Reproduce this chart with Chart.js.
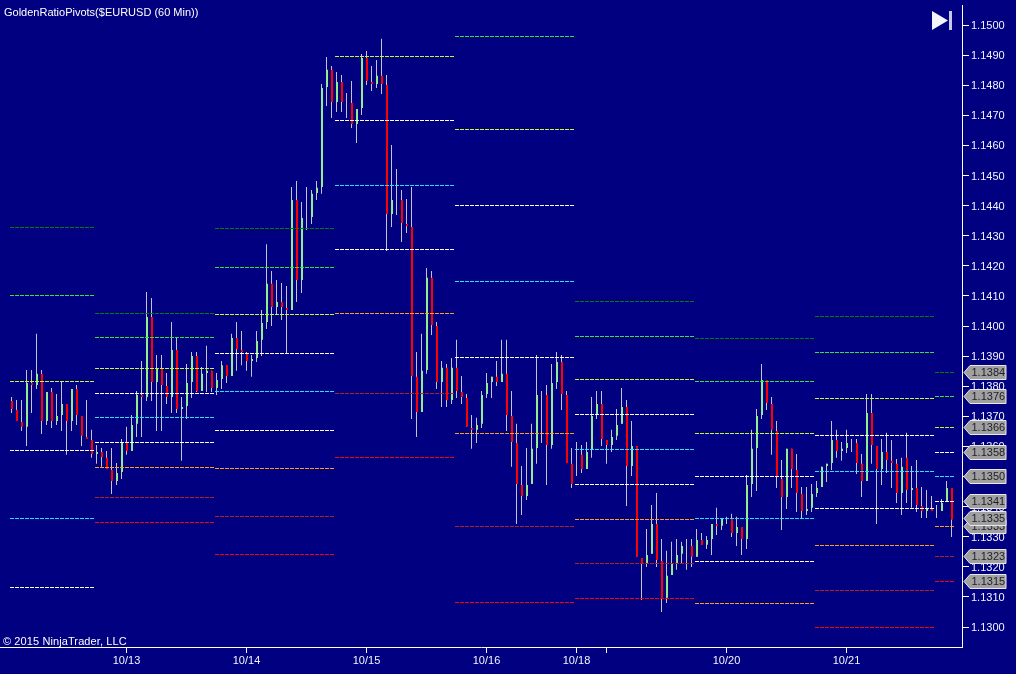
<!DOCTYPE html>
<html lang="en">
<head>
  <meta charset="UTF-8" />
  <title>GoldenRatioPivots($EURUSD (60 Min))</title>
  <script src="https://cdn.jsdelivr.net/npm/chart.js"></script>
  <style>
    html, body { margin: 0; padding: 0; background: #000080; overflow: hidden; }
    #wrap { position: relative; width: 1016px; height: 674px; }
    canvas { display: block; }
    .note { position: absolute; color: #fff; font: 11px "Liberation Sans", Arial, sans-serif; white-space: nowrap; }
    svg { position: absolute; left: 930px; top: 9px; }
  </style>
</head>
<body>
<div id="wrap">
  <canvas id="chart" width="1016" height="674"></canvas>
  <div class="note" style="left:4px; top:6px;">GoldenRatioPivots($EURUSD (60 Min))</div>
  <div class="note" style="left:3px; top:635px; letter-spacing:0.1px;">© 2015 NinjaTrader, LLC</div>
  <svg width="24" height="23"><polygon points="2,2 18,11.5 2,21" fill="#f4f4fc"/><rect x="19" y="2" width="3" height="19" fill="#c8c8e8"/></svg>
</div>

<script>
  // 60 min candles, oldest first
  const opens = [
    1.13751,1.13721,1.13681,1.13665,1.13811,1.13804,1.13841,1.13684,1.13781,1.13684,
    1.13704,1.13741,1.13684,1.13791,1.13701,1.13631,1.13621,1.13575,1.13581,1.13562,
    1.13522,1.13485,1.13515,1.13611,1.13585,1.13675,1.13771,1.13764,1.14030,1.13814,
    1.13857,1.13801,1.13764,1.13920,1.13724,1.13734,1.13814,1.13900,1.13784,1.13844,
    1.13851,1.13794,1.13824,1.13870,1.13834,1.13960,1.13920,1.13907,1.13884,1.13894,
    1.13954,1.14013,1.14140,1.14063,1.14080,1.14060,1.14053,1.14419,1.14153,1.14322,
    1.14362,1.14442,1.14462,1.14794,1.14851,1.14744,1.14811,1.14730,1.14741,1.14671,
    1.14724,1.14890,1.14811,1.14804,1.14831,1.14801,1.14372,1.14450,1.14419,1.14339,
    1.14329,1.13831,1.13714,1.13854,1.14160,1.14000,1.13814,1.13861,1.13754,1.13861,
    1.13781,1.13761,1.13661,1.13655,1.13675,1.13774,1.13814,1.13831,1.13814,1.13841,
    1.13701,1.13611,1.13472,1.13435,1.13475,1.13595,1.13700,1.13771,1.13605,1.13814,
    1.13880,1.13771,1.13542,1.13550,1.13572,1.13525,1.13588,1.13704,1.13741,1.13621,
    1.13605,1.13635,1.13675,1.13731,1.13535,1.13601,1.13229,1.13213,1.13243,1.13342,
    1.13219,1.13097,1.13173,1.13213,1.13243,1.13240,1.13269,1.13233,1.13289,1.13273,
    1.13292,1.13342,1.13336,1.13355,1.13359,1.13312,1.13332,1.13292,1.13475,1.13595,
    1.13704,1.13821,1.13741,1.13651,1.13492,1.13432,1.13592,1.13522,1.13442,1.13385,
    1.13396,1.13445,1.13465,1.13535,1.13545,1.13621,1.13585,1.13595,1.13605,1.13611,
    1.13542,1.13485,1.13711,1.13601,1.13525,1.13581,1.13552,1.13542,1.13445,1.13562,
    1.13455,1.13462,1.13402,1.13385,1.13392,1.13385,1.13385,1.13419,1.13462
  ];
  const highs = [
    1.13764,1.13754,1.13754,1.13854,1.13854,1.13974,1.13854,1.13781,1.13794,1.13774,
    1.13817,1.13741,1.13791,1.13804,1.13701,1.13754,1.13655,1.13605,1.13595,1.13585,
    1.13595,1.13545,1.13625,1.13665,1.13704,1.13784,1.13884,1.14113,1.14093,1.13904,
    1.13904,1.13844,1.14013,1.13963,1.13764,1.13874,1.13914,1.13914,1.13864,1.13934,
    1.13851,1.13844,1.13884,1.13870,1.13974,1.14013,1.13983,1.13914,1.13904,1.13983,
    1.14053,1.14272,1.14183,1.14153,1.14143,1.14133,1.14462,1.14482,1.14412,1.14462,
    1.14452,1.14482,1.14804,1.14894,1.14864,1.14844,1.14834,1.14774,1.14814,1.14721,
    1.14904,1.14914,1.14864,1.14884,1.14954,1.14834,1.14601,1.14522,1.14452,1.14422,
    1.14462,1.13914,1.13974,1.14193,1.14183,1.14013,1.13884,1.13874,1.13894,1.13954,
    1.13834,1.13774,1.13704,1.13695,1.13784,1.13844,1.13831,1.13884,1.13954,1.13954,
    1.13784,1.13675,1.13535,1.13595,1.13675,1.13904,1.13784,1.13804,1.13874,1.13914,
    1.13904,1.13784,1.13595,1.13615,1.13605,1.13615,1.13764,1.13784,1.13784,1.13621,
    1.13655,1.13724,1.13794,1.13754,1.13684,1.13601,1.13229,1.13326,1.13405,1.13445,
    1.13292,1.13253,1.13283,1.13292,1.13283,1.13292,1.13292,1.13326,1.13312,1.13302,
    1.13342,1.13396,1.13362,1.13366,1.13376,1.13366,1.13332,1.13505,1.13655,1.13724,
    1.13874,1.13821,1.13764,1.13684,1.13555,1.13592,1.13592,1.13575,1.13465,1.13465,
    1.13475,1.13485,1.13532,1.13542,1.13684,1.13655,1.13615,1.13655,1.13625,1.13625,
    1.13575,1.13774,1.13774,1.13601,1.13625,1.13645,1.13621,1.13558,1.13562,1.13645,
    1.13535,1.13555,1.13465,1.13455,1.13435,1.13405,1.13425,1.13485,1.13462
  ];
  const lows = [
    1.13711,1.13684,1.13651,1.13601,1.13711,1.13791,1.13641,1.13671,1.13661,1.13671,
    1.13651,1.13572,1.13651,1.13671,1.13601,1.13625,1.13562,1.13542,1.13532,1.13525,
    1.13442,1.13472,1.13492,1.13572,1.13585,1.13631,1.13631,1.13751,1.13751,1.13651,
    1.13651,1.13741,1.13711,1.13711,1.13552,1.13691,1.13761,1.13781,1.13784,1.13781,
    1.13781,1.13771,1.13791,1.13811,1.13834,1.13851,1.13870,1.13851,1.13831,1.13880,
    1.13900,1.13990,1.14000,1.14040,1.14020,1.13910,1.14053,1.14080,1.14110,1.14319,
    1.14339,1.14419,1.14439,1.14731,1.14691,1.14711,1.14711,1.14691,1.14658,1.14608,
    1.14701,1.14801,1.14781,1.14791,1.14771,1.14249,1.14329,1.14369,1.14279,1.14309,
    1.13691,1.13631,1.13714,1.13841,1.13970,1.13791,1.13731,1.13731,1.13741,1.13761,
    1.13741,1.13665,1.13592,1.13611,1.13661,1.13761,1.13761,1.13801,1.13814,1.13651,
    1.13532,1.13342,1.13372,1.13422,1.13475,1.13542,1.13611,1.13472,1.13592,1.13791,
    1.13721,1.13545,1.13462,1.13502,1.13512,1.13525,1.13562,1.13691,1.13601,1.13542,
    1.13581,1.13621,1.13675,1.13402,1.13502,1.13233,1.13090,1.13199,1.13243,1.13199,
    1.13050,1.13080,1.13173,1.13190,1.13213,1.13190,1.13199,1.13233,1.13273,1.13259,
    1.13239,1.13306,1.13322,1.13342,1.13299,1.13269,1.13239,1.13259,1.13432,1.13452,
    1.13691,1.13721,1.13572,1.13462,1.13322,1.13392,1.13462,1.13382,1.13362,1.13372,
    1.13382,1.13432,1.13465,1.13482,1.13522,1.13562,1.13552,1.13578,1.13581,1.13508,
    1.13432,1.13485,1.13542,1.13342,1.13472,1.13512,1.13462,1.13412,1.13372,1.13412,
    1.13396,1.13382,1.13362,1.13362,1.13385,1.13362,1.13385,1.13419,1.13299
  ];
  const closes = [
    1.13724,1.13684,1.13665,1.13811,1.13804,1.13841,1.13684,1.13781,1.13684,1.13701,
    1.13741,1.13684,1.13791,1.13704,1.13635,1.13625,1.13575,1.13581,1.13565,1.13525,
    1.13485,1.13512,1.13611,1.13585,1.13671,1.13771,1.13764,1.14030,1.13814,1.13857,
    1.13804,1.13764,1.13920,1.13724,1.13731,1.13811,1.13900,1.13784,1.13841,1.13851,
    1.13794,1.13821,1.13870,1.13834,1.13960,1.13924,1.13914,1.13884,1.13890,1.13950,
    1.14010,1.14140,1.14063,1.14080,1.14063,1.14053,1.14419,1.14153,1.14359,1.14322,
    1.14439,1.14459,1.14791,1.14851,1.14744,1.14811,1.14744,1.14730,1.14671,1.14721,
    1.14890,1.14814,1.14804,1.14831,1.14804,1.14372,1.14419,1.14450,1.14342,1.14332,
    1.13834,1.13714,1.13851,1.14160,1.14003,1.13814,1.13861,1.13754,1.13861,1.13784,
    1.13764,1.13665,1.13655,1.13671,1.13771,1.13811,1.13831,1.13814,1.13841,1.13704,
    1.13615,1.13475,1.13435,1.13472,1.13592,1.13771,1.13700,1.13605,1.13811,1.13880,
    1.13774,1.13545,1.13475,1.13550,1.13525,1.13581,1.13701,1.13741,1.13625,1.13605,
    1.13631,1.13671,1.13731,1.13535,1.13601,1.13233,1.13213,1.13239,1.13342,1.13223,
    1.13093,1.13170,1.13209,1.13239,1.13269,1.13240,1.13233,1.13289,1.13273,1.13289,
    1.13342,1.13336,1.13359,1.13355,1.13312,1.13332,1.13292,1.13472,1.13592,1.13701,
    1.13821,1.13744,1.13655,1.13498,1.13432,1.13592,1.13525,1.13445,1.13385,1.13392,
    1.13442,1.13462,1.13532,1.13542,1.13621,1.13585,1.13592,1.13611,1.13605,1.13545,
    1.13485,1.13711,1.13605,1.13525,1.13581,1.13555,1.13545,1.13445,1.13532,1.13455,
    1.13462,1.13405,1.13385,1.13392,1.13385,1.13385,1.13412,1.13462,1.13356
  ];

  // pivot levels per session, null where the session has no such level
  const levelDarkGreen = [1.143272,1.140415,1.143239,null,null,1.140814,1.139585,1.140316,1.138455];
  const levelGreen     = [1.141013,1.139618,1.141944,null,1.149618,1.139651,1.138156,1.139120,1.137658];
  const levelYellow    = [1.138156,1.138588,1.140382,1.148953,1.146528,1.138223,1.136429,1.137591,1.136628];
  const levelWhiteHigh = [1.135864,1.137757,1.139086,1.146827,1.144003,1.137060,1.135000,1.136363,1.135797];
  const levelCyan      = [1.133605,1.136960,1.137824,1.144668,1.141478,1.135897,1.133605,1.135166,1.135000];
  const levelWhiteLow  = [1.131312,1.136130,1.136528,1.142541,1.138953,1.134734,1.132176,1.133937,1.134170];
  const levelOrange    = [null,1.135299,1.135266,1.140415,1.136429,1.133571,1.130781,1.132708,1.133339];
  const levelBrown     = [null,1.134302,1.133671,1.137757,1.133339,1.132110,null,1.131213,1.132342];
  const levelRed       = [null,1.133472,1.132408,1.135631,1.130814,1.130947,null,1.129983,1.131511];

  // first and last bar of each session
  const sessionStart = [-0.3,16.7,40.7,64.7,88.7,112.7,136.7,160.7,184.7];
  const sessionEnd   = [16.5,40.5,64.5,88.5,112.5,136.5,160.5,184.5,188.5];

  const dateTicks  = [23,47,71,95,113,119,143,167];
  const dateLabels = ['10/13','10/14','10/15','10/16','10/18','','10/20','10/21'];
  const priceTicks = [1.130,1.131,1.132,1.133,1.134,1.135,1.136,1.137,1.138,1.139,1.140,
                      1.141,1.142,1.143,1.144,1.145,1.146,1.147,1.148,1.149,1.150];

  // price markers on the axis, the covered one comes first
  const markerPrices = [1.13845,1.13766,1.13663,1.13580,1.13500,1.13417,1.13334,1.13360,1.13234,1.13151];
  const markerLabels = ['1.1384','1.1376','1.1366','1.1358','1.1350','1.1341','1.1333','1.1335','1.1323','1.1315'];

  const FONT = '"Liberation Sans", Arial, sans-serif';
  const UP = '#90ee90', DOWN = '#ff0000', WICK = '#c4c4cc';

  const levelStyles = [
    [levelDarkGreen, '#008000'], [levelGreen, '#32e632'], [levelYellow, '#bfff30'],
    [levelWhiteHigh, '#ffffff'], [levelCyan, '#20e8ff'], [levelWhiteLow, '#ffffff'],
    [levelOrange, '#ffa020'], [levelBrown, '#b22222'], [levelRed, '#ff0000']
  ];

  const levelSets = [];
  levelStyles.forEach(([values, color]) => {
    values.forEach((v, s) => {
      if (v === null) return;
      levelSets.push({
        type: 'line',
        data: [{x: sessionStart[s], y: v}, {x: sessionEnd[s], y: v}],
        borderColor: color,
        borderWidth: 1,
        borderDash: [4, 1],
        pointRadius: 0,
        order: 0
      });
    });
  });

  // marker boxes on top of the price axis
  const markerPlugin = {
    id: 'markers',
    afterDraw(chart) {
      const c = chart.ctx;
      const yScale = chart.scales.y;
      markerPrices.forEach((p, i) => {
        const y = Math.floor(yScale.getPixelForValue(p)) + 0.5;
        c.beginPath();
        c.moveTo(964, y);
        c.lineTo(970, y - 7);
        c.lineTo(1006, y - 7);
        c.lineTo(1006, y + 7);
        c.lineTo(970, y + 7);
        c.closePath();
        c.fillStyle = '#a0a0a0';
        c.fill();
        c.strokeStyle = '#e8e8e8';
        c.lineWidth = 1;
        c.stroke();
        c.fillStyle = '#202028';
        c.font = '11px ' + FONT;
        c.textAlign = 'left';
        c.textBaseline = 'middle';
        c.fillText(markerLabels[i], 971.5, y + 0.5);
      });
    }
  };

  new Chart(document.getElementById('chart'), {
    type: 'bar',
    data: {
      datasets: [
        ...levelSets,
        {
          xAxisID: 'xBody',
          data: opens.map((o, i) => ({x: i, y: [o, closes[i]]})),
          backgroundColor: opens.map((o, i) => closes[i] >= o ? UP : DOWN),
          maxBarThickness: 2,
          inflateAmount: 0,
          grouped: false,
          order: 1
        },
        {
          data: highs.map((h, i) => ({x: i, y: [lows[i], h]})),
          backgroundColor: WICK,
          maxBarThickness: 1,
          inflateAmount: 0,
          grouped: false,
          order: 2
        }
      ]
    },
    options: {
      responsive: false,
      animation: false,
      layout: { padding: { top: 5, left: 0, right: 0, bottom: 0 } },
      plugins: { legend: { display: false }, tooltip: { enabled: false } },
      events: [],
      scales: {
        x: {
          type: 'linear',
          min: -2.3,
          max: 190.1,
          offset: false,
          afterBuildTicks: axis => { axis.ticks = dateTicks.map(v => ({value: v})); },
          afterFit: axis => { axis.height = 27; },
          border: { color: '#ffffff' },
          grid: { offset: false, drawOnChartArea: false, color: '#ffffff', tickLength: 6 },
          ticks: {
            autoSkip: false,
            maxRotation: 0,
            padding: 1,
            color: '#f4f4ff',
            font: { family: FONT, size: 11 },
            callback: v => dateLabels[dateTicks.indexOf(v)]
          }
        },
        // candle bodies are 2px wide, half a pixel right of the 1px wicks
        xBody: {
          type: 'linear',
          display: false,
          min: -2.4,
          max: 190,
          offset: false
        },
        y: {
          position: 'right',
          min: 1.1293356,
          max: 1.1506645,
          afterBuildTicks: axis => { axis.ticks = priceTicks.map(v => ({value: v})); },
          afterFit: axis => { axis.width = 54; axis.paddingTop = 0; axis.paddingBottom = 0; },
          border: { color: '#ffffff' },
          grid: { drawOnChartArea: false, color: '#ffffff', tickLength: 7 },
          ticks: {
            autoSkip: false,
            padding: 2,
            labelOffset: 1,
            color: '#f4f4ff',
            font: { family: FONT, size: 11 },
            callback: v => v.toFixed(4)
          }
        }
      }
    },
    plugins: [markerPlugin]
  });
</script>
</body>
</html>
